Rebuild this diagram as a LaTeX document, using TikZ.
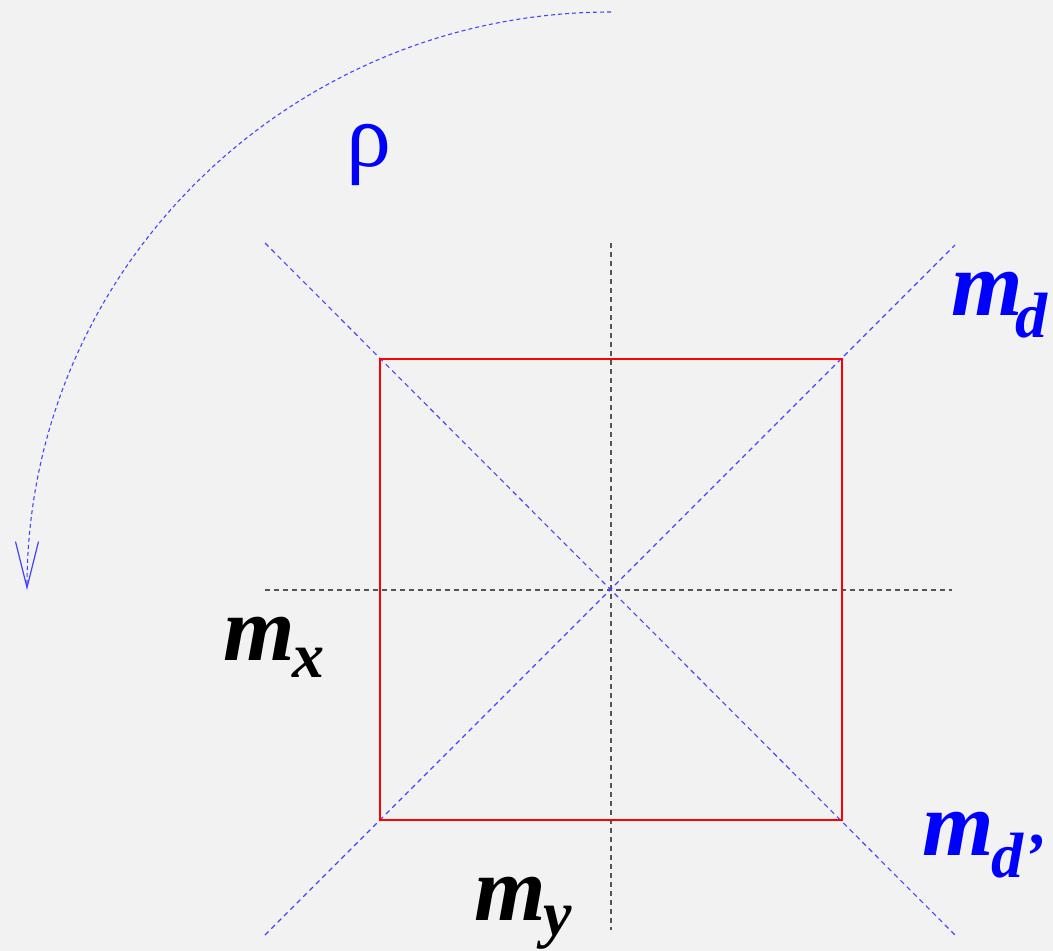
\documentclass[tikz,border=0pt]{standalone}
\usepackage{fontspec}
\setmainfont{Liberation Serif}
\usetikzlibrary{arrows.meta}
\definecolor{bg}{HTML}{F2F2F2}
\definecolor{lblue}{HTML}{4444FF}
\definecolor{tblue}{HTML}{0000FF}
\definecolor{dgray}{HTML}{555555}
\newcommand\lblsub[3][-2pt]{\kern#1\raisebox{#2}{\fontsize{64}{70}\selectfont #3}}
\begin{document}
\begin{tikzpicture}[x=1pt,y=-1pt,
  axisline/.style={dgray, dash pattern=on 5pt off 4pt, line width=1.2pt},
  diagline/.style={lblue, dash pattern=on 5pt off 4pt, line width=1.1pt},
  sqline/.style={red, line width=1.5pt},
  lbl/.style={anchor=base west, inner sep=0pt, font=\fontsize{92}{100}\selectfont\bfseries\itshape},
  rotarc/.style={lblue, dash pattern=on 4pt off 3pt, line width=1.1pt,
    -{Straight Barb[length=46pt,width=23pt,line width=1.2pt]}}
]
\fill[bg] (0,0) rectangle (1053,951);
\useasboundingbox (0,0) rectangle (1053,951);
% named points
\coordinate (c) at (611,590);
\coordinate (tl) at (380,359);
\coordinate (tr) at (842,359);
\coordinate (br) at (842,820);
\coordinate (bl) at (380,820);
\coordinate (vtop) at (611,243);
\coordinate (vbot) at (611,930);
\coordinate (hl) at (265,590);
\coordinate (hr) at (952,590);
\coordinate (d1a) at (265,243);
\coordinate (d1b) at (955,935);
\coordinate (d2a) at (265,935);
\coordinate (d2b) at (955,245);
\coordinate (arcstart) at (611,12);
% axes
\draw[axisline] (vtop) -- (vbot);
\draw[axisline] (hl) -- (hr);
% diagonals
\draw[diagline] (d1a) -- (d1b);
\draw[diagline] (d2a) -- (d2b);
% square
\draw[sqline] (tl) -- (tr) -- (br) -- (bl) -- cycle;
% rotation arc
\draw[rotarc] (arcstart) arc[start angle=-90, end angle=-180, x radius=584, y radius=578];
% labels
\node[lbl] (mx) at (223,660) {m\lblsub{-17pt}{x}};
\node[lbl] (my) at (474,920) {m\lblsub{-15pt}{y}};
\node[lbl, text=tblue] (md) at (951,315) {m\lblsub[-7pt]{-22pt}{d}};
\node[lbl, text=tblue] (mdp) at (922,855) {m\lblsub{-22pt}{d’}};
\node[anchor=base west, inner sep=0pt, text=tblue, font=\fontsize{90}{96}\selectfont] (rho) at (346,166) {ρ};
\end{tikzpicture}
\end{document}
